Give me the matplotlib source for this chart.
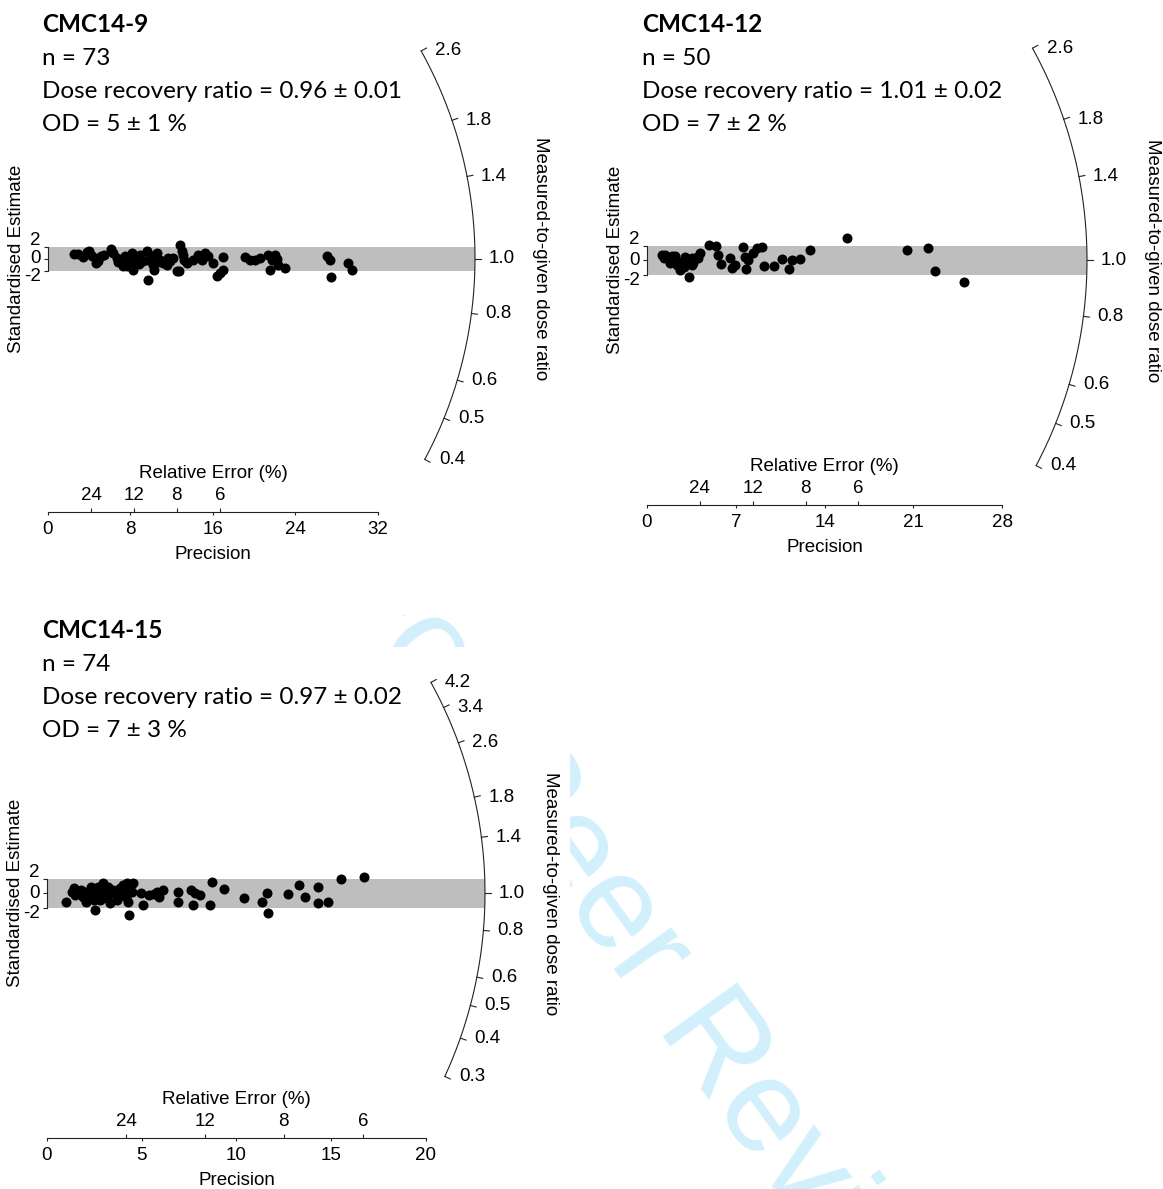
import numpy as np
import matplotlib
matplotlib.use("Agg")
import matplotlib.pyplot as plt
from matplotlib.patches import Rectangle

# radial plots of dose recovery tests: precision (x) vs standardised estimate (z)
names = ["CMC14-9", "CMC14-12", "CMC14-15"]
n_aliquots = [73, 50, 74]
recovery_txt = ["0.96 ± 0.01", "1.01 ± 0.02", "0.97 ± 0.02"]
od_txt = ["5 ± 1 %", "7 ± 2 %", "7 ± 3 %"]

cmc9_prec = [2.52, 2.94, 3.37, 3.81, 4.0, 4.85, 5.17, 5.43, 6.08, 6.34, 6.66, 7.05, 7.3, 7.47,
             7.79, 8.12, 8.27, 8.27, 8.6, 8.92, 9.25, 9.57, 9.73, 9.73, 10.06, 10.22, 10.29,
             10.54, 10.86, 11.18, 11.51, 11.83, 12.15, 12.48, 12.74, 12.8, 12.97, 13.06, 13.19,
             13.45, 14.1, 14.58, 15.23, 15.55, 15.97, 16.36, 16.68, 17.0, 17.0, 19.11, 19.59,
             20.08, 20.56, 21.37, 21.53, 21.7, 22.02, 22.24, 22.34, 22.99, 27.03, 27.35, 27.42,
             29.13, 29.52, 4.66, 6.79, 7.66, 8.83, 10.67, 11.64, 4.27, 14.94]
cmc9_z = [0.75, 0.7, 0.17, 1.13, 1.3, -0.37, 0.37, 0.63, 1.63, 0.92, 0.08, -0.47, -1.3, 0.37,
          -0.2, 0.92, -0.75, -1.87, -0.2, 0.63, -0.47, 1.2, -0.2, -3.53, 0.37, -1.03, -1.87,
          0.92, -0.2, -0.75, -1.03, -0.47, 0.08, -2.13, -2.03, 2.3, 1.2, 0.53, -0.2,
          -0.8, -0.2, 0.63, 0.92, 0.37, -0.75, -2.97, -2.42, -1.87, 0.2, 0.2, -0.2,
          -0.2, 0.08, 0.63, -1.87, -0.2, 0.63, -0.03, -1.03, -1.58, 0.37, -0.3, -3.13,
          -0.75, -1.87, -0.75, -0.58, -1.25, -0.92, -0.58, 0.08, 0.42, -0.25]

cmc12_prec = [1.16, 1.42, 1.68, 1.81, 2.07, 2.21, 2.34, 2.6, 2.6, 2.86, 3.0, 3.13, 3.34, 3.34,
              3.53, 3.65, 3.92, 4.18, 1.34, 1.97, 2.44, 2.92, 3.55, 4.02, 4.91, 5.44, 5.62,
              5.81, 6.55, 6.68, 6.94, 7.59, 7.73, 7.81, 7.99, 8.34, 8.65, 9.05, 9.23, 10.02,
              10.62, 11.22, 11.41, 12.07, 12.85, 15.8, 20.48, 22.18, 22.71, 25.02]
cmc12_z = [0.73, 0.73, 0.27, -0.41, 0.04, 0.59, -0.64, -0.88, -1.33, -0.19, 0.49, -0.41, -0.19,
           -2.33, 0.27, -0.41, 0.49, 0.96, 0.32, 0.59, -0.23, -0.92, -0.64, 0.32, 2.1, 1.96,
           0.73, -0.51, 0.27, -1.1, -0.64, 1.86, 0.49, -1.23, 0.04, 0.96, 1.64, 1.86, -0.78,
           -0.78, 0.14, -1.23, 0.04, 0.14, 1.41, 3.01, 1.41, 1.64, -1.42, -2.93]

cmc15_prec = [1.0, 1.3, 1.42, 1.57, 1.7, 1.92, 2.06, 2.18, 2.31, 2.41, 2.53, 2.62, 2.71, 2.8,
              2.89, 2.97, 3.11, 3.23, 3.32, 3.41, 3.59, 3.76, 3.85, 4.03, 4.2, 4.29, 4.29, 4.34,
              4.47, 4.55, 4.94, 5.05, 5.4, 5.65, 5.79, 5.93, 6.14, 6.93, 6.93, 7.58, 7.72, 7.81,
              8.07, 8.6, 8.71, 9.34, 10.4, 11.33, 11.59, 11.68, 12.73, 13.31, 13.61, 14.32,
              14.32, 14.84, 15.5, 16.74, 1.5, 1.8, 2.0, 2.2, 2.35, 2.5, 2.65, 2.75, 2.95, 3.05,
              3.2, 3.5, 3.7, 3.95, 4.15, 4.4]
cmc15_z = [-1.17, 0.21, 0.68, 0.35, -0.01, -0.48, -1.17, 0.21, 0.9, -0.48, -2.32, -0.01, 0.9,
           -0.94, 0.44, 1.37, 0.21, 0.9, -1.4, -0.01, 0.21, -0.48, 0.68, 1.13, 1.37, -0.01,
           -1.17, -3.0, 0.21, 1.37, 0.07, -1.63, -0.25, -0.11, 0.21, -0.48, 0.44, 0.21, -1.17,
           0.44, -1.63, -0.01, -0.25, -1.63, 1.5, 0.54, -0.71, -1.17, -0.01, -2.77, -0.11, 1.13,
           -0.57, 0.9, -1.4, -1.17, 1.92, 2.28, -0.3, 0.5, 0.2, -0.8, 0.5, -0.9, 0.6, -0.4,
           -0.6, 0.7, -0.3, 0.5, -0.9, 0.3, -0.5, 0.6]

arc_ticks_a = [0.4, 0.5, 0.6, 0.8, 1.0, 1.4, 1.8, 2.6]
arc_ticks_b = [0.3, 0.4, 0.5, 0.6, 0.8, 1.0, 1.4, 1.8, 2.6, 3.4, 4.2]
rel_err_ticks = [24, 12, 8, 6]
central = 1.0

W, H = 1163, 1189
PT = 0.72  # points per pixel at 100 dpi
plt.rcParams["font.family"] = ["Liberation Sans", "DejaVu Sans"]
AX_FS = 13.5
LINE = "#222222"


def arc_xy(r, rad, sx, sz):
    s = np.log(np.asarray(r, dtype=float) / central)
    x = rad / np.sqrt(sx ** 2 + (s * sz) ** 2)
    return x, x * s


def radial_panel(fig, prec, z, ox, oz, sx, sz, rad, xticks, line_y, ratios, xlim, zlim):
    zline = (oz - line_y) / sz
    left, right = ox + xlim[0] * sx, ox + xlim[1] * sx
    top, bottom = oz - zlim[1] * sz, oz - zlim[0] * sz
    ax = fig.add_axes([left / W, 1 - bottom / H, (right - left) / W, (bottom - top) / H])
    ax.set_xlim(xlim)
    ax.set_ylim(zlim)
    ax.patch.set_visible(False)
    for s in ["top", "right"]:
        ax.spines[s].set_visible(False)
    mid = ((xticks[0] + xticks[-1]) / 2 - xlim[0]) / (xlim[1] - xlim[0])

    # precision axis
    ax.spines["bottom"].set_position(("data", zline))
    ax.spines["bottom"].set_bounds(xticks[0], xticks[-1])
    ax.set_xticks(xticks)
    ax.tick_params(axis="x", direction="out", length=2.5, width=0.8, pad=4, labelsize=AX_FS,
                   color=LINE)
    ax.set_xlabel("Precision", fontsize=AX_FS, labelpad=6)
    ax.xaxis.label.set_x(mid)

    # relative error scale on the same line
    tw = ax.twiny()
    tw.set_xlim(xlim)
    for s in tw.spines.values():
        s.set_visible(False)
    tw.spines["top"].set_position(("data", zline))
    tw.set_xticks(100.0 / np.array(rel_err_ticks), labels=[str(v) for v in rel_err_ticks])
    tw.tick_params(axis="x", direction="out", length=3, width=0.8, pad=2.5, labelsize=AX_FS,
                   color=LINE)
    tw.set_xlabel("Relative Error (%)", fontsize=AX_FS, labelpad=6.5)
    tw.xaxis.label.set_x(mid)

    # standardised estimate axis
    ax.spines["left"].set_position(("data", 0))
    ax.spines["left"].set_bounds(-2, 2)
    for s in ["left", "bottom"]:
        ax.spines[s].set_linewidth(0.8)
        ax.spines[s].set_color(LINE)
    ax.set_yticks([-2, 0, 2], labels=[])
    ax.tick_params(axis="y", direction="out", length=3, width=0.8, color=LINE)
    for v, dy in [(2, 6), (0, 0), (-2, -6)]:
        ax.annotate(f"{v}", xy=(0, v), xytext=(-7 * PT, dy * PT), textcoords="offset points",
                    ha="right", va="center", fontsize=AX_FS)
    ax.annotate("Standardised Estimate", xy=(0, 0), xytext=(-31 * PT, 0),
                textcoords="offset points", rotation=90, ha="center", va="center",
                fontsize=AX_FS)

    # grey +-2 band up to the arc
    x_end, _ = arc_xy(central, rad, sx, sz)
    ax.fill_between([0, x_end], -2, 2, color="#bebebe", lw=0, zorder=1)

    # dose ratio arc with radial ticks
    rr = np.exp(np.linspace(np.log(ratios[0]), np.log(ratios[-1]), 300))
    axx, azz = arc_xy(rr, rad, sx, sz)
    ax.plot(axx, azz, color=LINE, lw=0.8, zorder=2)
    for r in ratios:
        x0, z0 = arc_xy(r, rad, sx, sz)
        x1, z1 = arc_xy(r, rad + 6, sx, sz)
        ax.plot([x0, x1], [z0, z1], color=LINE, lw=0.8, zorder=2)
        ax.annotate(f"{r:.1f}", xy=(x0, z0), xytext=(14 * PT, 0), textcoords="offset points",
                    ha="left", va="center", fontsize=AX_FS)
    ax.annotate("Measured-to-given dose ratio", xy=(x_end, 0), xytext=(66 * PT, 0),
                textcoords="offset points", rotation=-90, ha="center", va="center",
                fontsize=AX_FS)

    ax.scatter(prec, z, s=52, c="black", linewidths=0, zorder=3)
    return ax


fig = plt.figure(figsize=(W / 100, H / 100), dpi=100)

# faint review watermark, hidden behind the upper plots and the lower-left plot
fig.text(649 / W, 1 - 959 / H, "For Peer Review", rotation=-54, rotation_mode="anchor",
         ha="center", va="center", fontsize=96, color="#d2f0fc",
         family="Liberation Sans", zorder=-3)
fig.patches.append(Rectangle((0, 1 - 615 / H), 1, 615 / H, transform=fig.transFigure,
                             fc="white", ec="none", zorder=-2))
fig.patches.append(Rectangle((0, 0), 570 / W, 1 - 647 / H, transform=fig.transFigure,
                             fc="white", ec="none", zorder=-2))

radial_panel(fig, cmc9_prec, cmc9_z, 48, 258.5, 10.31, 6.0, 427, [0, 8, 16, 24, 32], 512,
             arc_ticks_a, (-4, 50), (-56, 40))
radial_panel(fig, cmc12_prec, cmc12_z, 647, 260.3, 12.68, 7.3, 440, [0, 7, 14, 21, 28], 505,
             arc_ticks_a, (-3, 41), (-46, 33))
radial_panel(fig, cmc15_prec, cmc15_z, 47, 893.2, 18.95, 7.25, 438, [0, 5, 10, 15, 20], 1138,
             arc_ticks_b, (-2, 29), (-40, 32))

# sample headers
for i, (x0, y0) in enumerate([(42, 32), (642, 32), (42, 638)]):
    fig.text(x0 / W, 1 - y0 / H, names[i], fontsize=17.5, fontweight="bold", family="Lato",
             va="baseline")
    lines = [f"n = {n_aliquots[i]}", f"Dose recovery ratio = {recovery_txt[i]}",
             f"OD = {od_txt[i]}"]
    for k, t in enumerate(lines):
        fig.text(x0 / W, 1 - (y0 + 33 * (k + 1)) / H, t, fontsize=17.5, family="Lato",
                 va="baseline")

fig.savefig("out.png", dpi=100)
